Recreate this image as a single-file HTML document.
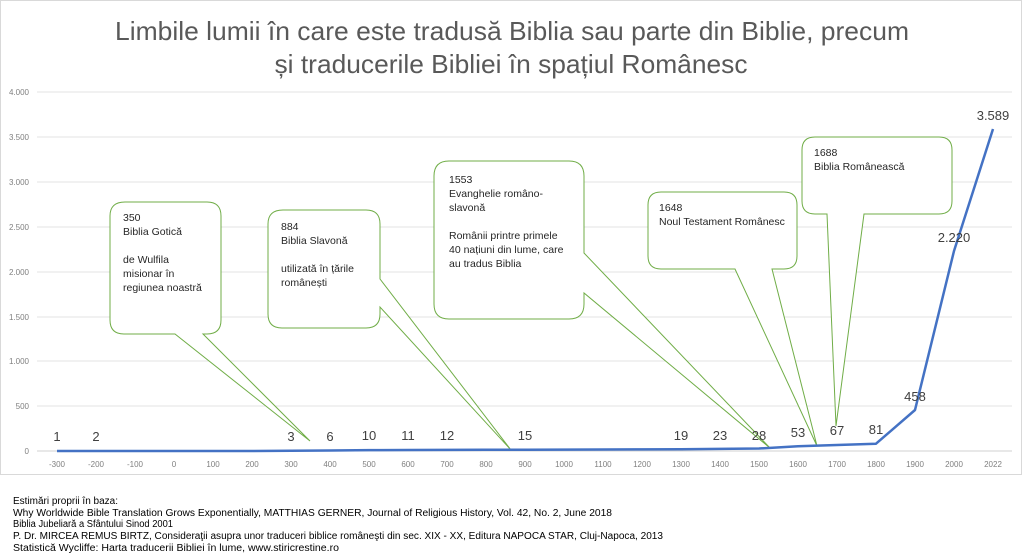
<!DOCTYPE html>
<html><head><meta charset="utf-8"><style>
html,body{margin:0;padding:0;background:#fff;}
svg{display:block;font-family:"Liberation Sans",sans-serif;}
</style></head><body>
<svg width="1024" height="560" viewBox="0 0 1024 560">
<rect x="0.5" y="0.5" width="1021" height="474" fill="#fff" stroke="#d9d9d9"/>
<text x="512" y="40" font-size="26" fill="#595959" text-anchor="middle" textLength="794" lengthAdjust="spacingAndGlyphs">Limbile lumii în care este tradusă Biblia sau parte din Biblie, precum</text>
<text x="511" y="73" font-size="26" fill="#595959" text-anchor="middle" textLength="473" lengthAdjust="spacingAndGlyphs">și traducerile Bibliei în spațiul Românesc</text>
<g stroke="#e3e3e3" stroke-width="1">
<line x1="37" x2="1012" y1="92" y2="92"/><line x1="37" x2="1012" y1="137" y2="137"/>
<line x1="37" x2="1012" y1="182" y2="182"/><line x1="37" x2="1012" y1="227" y2="227"/>
<line x1="37" x2="1012" y1="272" y2="272"/><line x1="37" x2="1012" y1="317" y2="317"/>
<line x1="37" x2="1012" y1="361" y2="361"/><line x1="37" x2="1012" y1="406" y2="406"/>
</g>
<line x1="37" x2="1012" y1="451" y2="451" stroke="#d0d0d0"/>
<g font-size="8" fill="#808080" text-anchor="end">
<text x="29" y="95">4.000</text><text x="29" y="140">3.500</text><text x="29" y="185">3.000</text>
<text x="29" y="230">2.500</text><text x="29" y="275">2.000</text><text x="29" y="320">1.500</text>
<text x="29" y="364">1.000</text><text x="29" y="409">500</text><text x="29" y="454">0</text>
</g>
<g font-size="8" fill="#808080" text-anchor="middle">
<text x="57" y="467">-300</text><text x="96" y="467">-200</text><text x="135" y="467">-100</text><text x="174" y="467">0</text>
<text x="213" y="467">100</text><text x="252" y="467">200</text><text x="291" y="467">300</text><text x="330" y="467">400</text>
<text x="369" y="467">500</text><text x="408" y="467">600</text><text x="447" y="467">700</text><text x="486" y="467">800</text>
<text x="525" y="467">900</text><text x="564" y="467">1000</text><text x="603" y="467">1100</text><text x="642" y="467">1200</text>
<text x="681" y="467">1300</text><text x="720" y="467">1400</text><text x="759" y="467">1500</text><text x="798" y="467">1600</text>
<text x="837" y="467">1700</text><text x="876" y="467">1800</text><text x="915" y="467">1900</text><text x="954" y="467">2000</text>
<text x="993" y="467">2022</text>
</g>
<g fill="#fff" stroke="#70ad47" stroke-width="1">
<path d="M125,202 H207 Q221,202 221,216 V320 Q221,334 207,334 H203 L310,441 L175,334 H124 Q110,334 110,320 V216 Q110,202 125,202 Z"/>
<path d="M283,210 H366 Q380,210 380,224 V279 L511,450 L380,307 V314 Q380,328 366,328 H282 Q268,328 268,314 V224 Q268,210 283,210 Z"/>
<path d="M449,161 H569 Q584,161 584,176 V253 L770,448 L584,293 V304 Q584,319 569,319 H449 Q434,319 434,304 V176 Q434,161 449,161 Z"/>
<path d="M661,192 H784 Q797,192 797,205 V256 Q797,269 784,269 H772 L817,446 L735,269 H661 Q648,269 648,256 V205 Q648,192 661,192 Z"/>
<path d="M815,137 H939 Q952,137 952,150 V201 Q952,214 939,214 H864 L836,426 L827,214 H815 Q802,214 802,201 V150 Q802,137 815,137 Z"/>
</g>
<g font-size="10.5" fill="#262626">
<text x="123" y="221">350</text><text x="123" y="235">Biblia Gotică</text>
<text x="123" y="263">de Wulfila</text><text x="123" y="277">misionar în</text><text x="123" y="291">regiunea noastră</text>
<text x="281" y="230">884</text><text x="281" y="244">Biblia Slavonă</text>
<text x="281" y="272">utilizată în țările</text><text x="281" y="286">românești</text>
<text x="449" y="183">1553</text><text x="449" y="197">Evanghelie româno-</text><text x="449" y="211">slavonă</text>
<text x="449" y="239">Românii printre primele</text><text x="449" y="253">40 națiuni din lume, care</text><text x="449" y="267">au tradus Biblia</text>
<text x="659" y="211">1648</text><text x="659" y="225">Noul Testament Românesc</text>
<text x="814" y="156">1688</text><text x="814" y="170">Biblia Românească</text>
</g>
<polyline fill="none" stroke="#4472c4" stroke-width="2.5" stroke-linejoin="round"
points="57,451 96,451 135,451 174,451 213,451 252,451 291,450.7 330,450.5 369,450.1 408,450 447,449.9 486,449.8 525,449.7 564,449.6 603,449.5 642,449.4 681,449.3 720,448.9 759,448.5 798,446.2 837,445 876,443.7 915,410 954,251 993,129"/>
<g font-size="13" fill="#404040" text-anchor="middle">
<text x="57" y="441">1</text><text x="96" y="441">2</text><text x="291" y="441">3</text><text x="330" y="441">6</text>
<text x="369" y="440">10</text><text x="408" y="440">11</text><text x="447" y="440">12</text><text x="525" y="440">15</text>
<text x="681" y="440">19</text><text x="720" y="440">23</text><text x="759" y="440">28</text><text x="798" y="437">53</text>
<text x="837" y="435">67</text><text x="876" y="434">81</text><text x="915" y="401">458</text><text x="954" y="242">2.220</text>
<text x="993" y="120">3.589</text>
</g>
<g font-size="10" fill="#000">
<text x="13" y="504" textLength="105" lengthAdjust="spacingAndGlyphs">Estimări proprii în baza:</text>
<text x="13" y="516" textLength="599" lengthAdjust="spacingAndGlyphs">Why Worldwide Bible Translation Grows Exponentially, MATTHIAS GERNER, Journal of Religious History, Vol. 42, No. 2, June 2018</text>
<text x="13" y="527" textLength="160" lengthAdjust="spacingAndGlyphs">Biblia Jubeliară a Sfântului Sinod 2001</text>
<text x="13" y="539" textLength="650" lengthAdjust="spacingAndGlyphs">P. Dr. MIRCEA REMUS BIRTZ, Consideraţii asupra unor traduceri biblice româneşti din sec. XIX - XX, Editura NAPOCA STAR, Cluj-Napoca, 2013</text>
<text x="13" y="551" textLength="326" lengthAdjust="spacingAndGlyphs">Statistică Wycliffe: Harta traducerii Bibliei în lume, www.stiricrestine.ro</text>
</g>
</svg>
</body></html>
